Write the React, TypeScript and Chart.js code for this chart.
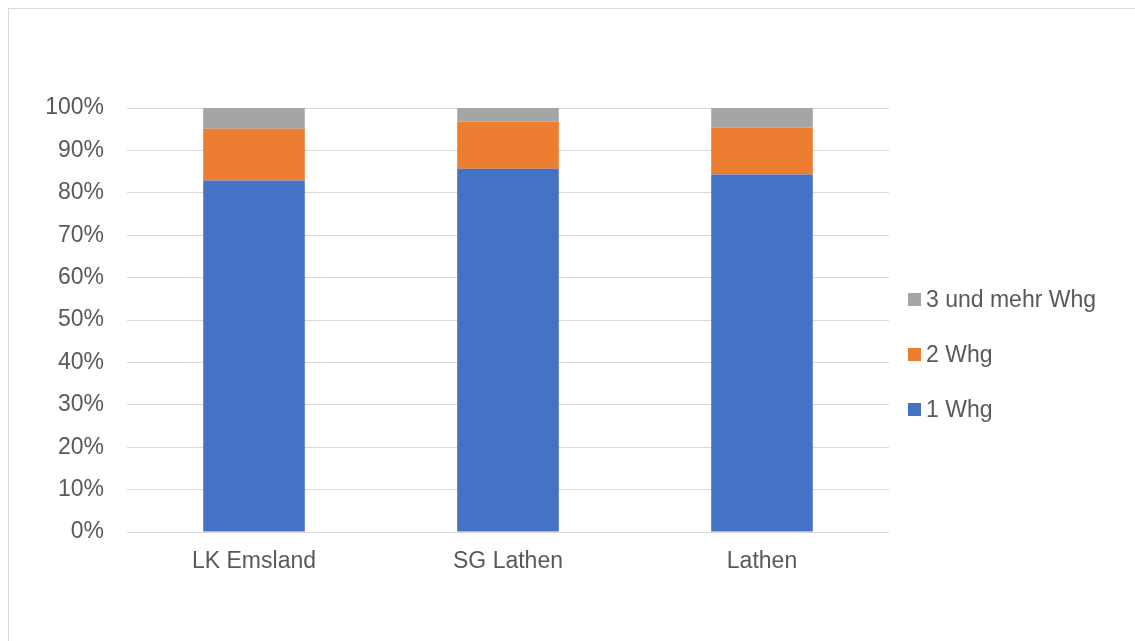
import React, { useEffect, useRef } from "react";
import { Chart, registerables } from "chart.js";

Chart.register(...registerables);

const categories = ["LK Emsland", "SG Lathen", "Lathen"];
const seriesNames = ["1 Whg", "2 Whg", "3 und mehr Whg"];
const oneFlat = [82.9, 85.7, 84.3];
const twoFlats = [12.2, 11.1, 11.1];
const threePlus = [4.9, 3.2, 4.6];
const seriesColors = ["#4472C4", "#ED7D31", "#A5A5A5"];

const FONT_FAMILY = '"Liberation Sans", Arial, sans-serif';
const TEXT_COLOR = "#595959";
const GRID_COLOR = "#D9D9D9";

// Vertical legend on the right, listed top-down in reverse stacking order
const sideLegend = {
  id: "sideLegend",
  afterDraw(chart: any) {
    const { ctx, chartArea } = chart;
    const datasets = chart.data.datasets;
    const boxSize = 13;
    const step = 55;
    const x = chartArea.right + 19;
    const firstY = 290.5;
    ctx.save();
    ctx.font = `23px ${FONT_FAMILY}`;
    ctx.textBaseline = "middle";
    ctx.textAlign = "left";
    for (let k = 0; k < datasets.length; k++) {
      const ds = datasets[datasets.length - 1 - k];
      const cy = firstY + k * step;
      ctx.fillStyle = ds.backgroundColor;
      ctx.fillRect(x, cy - boxSize / 2, boxSize, boxSize);
      ctx.fillStyle = TEXT_COLOR;
      ctx.fillText(ds.label, x + boxSize + 5, cy + 1);
    }
    ctx.restore();
  },
};

export default function App() {
  const canvasRef = useRef<HTMLCanvasElement | null>(null);

  useEffect(() => {
    if (!canvasRef.current) return;
    const values = [oneFlat, twoFlats, threePlus];
    const chart = new Chart(canvasRef.current, {
      type: "bar",
      data: {
        labels: categories,
        datasets: seriesNames.map((name, i) => ({
          label: name,
          data: values[i],
          backgroundColor: seriesColors[i],
          borderWidth: 0,
          barPercentage: 0.4,
          categoryPercentage: 1,
        })),
      },
      options: {
        animation: false,
        responsive: false,
        maintainAspectRatio: false,
        layout: { padding: { left: 28, right: 246, top: 99, bottom: 49 } },
        plugins: {
          legend: { display: false },
          tooltip: { enabled: false },
          title: { display: false },
        },
        scales: {
          x: {
            stacked: true,
            grid: { display: false, drawTicks: false },
            border: { display: false },
            ticks: {
              color: TEXT_COLOR,
              font: { family: FONT_FAMILY, size: 23 },
              padding: 16,
            },
            afterFit: (scale: any) => {
              scale.height = 60;
            },
          },
          y: {
            stacked: true,
            min: 0,
            max: 100,
            grid: { color: GRID_COLOR, lineWidth: 1, drawTicks: false },
            border: { display: false },
            ticks: {
              stepSize: 10,
              color: TEXT_COLOR,
              font: { family: FONT_FAMILY, size: 23 },
              padding: 23,
              callback: (v: any) => `${v}%`,
            },
            afterFit: (scale: any) => {
              scale.width = 90;
            },
          },
        },
      },
      plugins: [sideLegend],
    });
    return () => chart.destroy();
  }, []);

  return (
    <div
      style={{
        position: "fixed",
        left: 8,
        top: 8,
        right: 0,
        bottom: 0,
        borderLeft: "1px solid #D9D9D9",
        borderTop: "1px solid #D9D9D9",
        background: "#ffffff",
        overflow: "hidden",
      }}
    >
      <canvas ref={canvasRef} width={1126} height={632} style={{ display: "block" }} />
    </div>
  );
}
